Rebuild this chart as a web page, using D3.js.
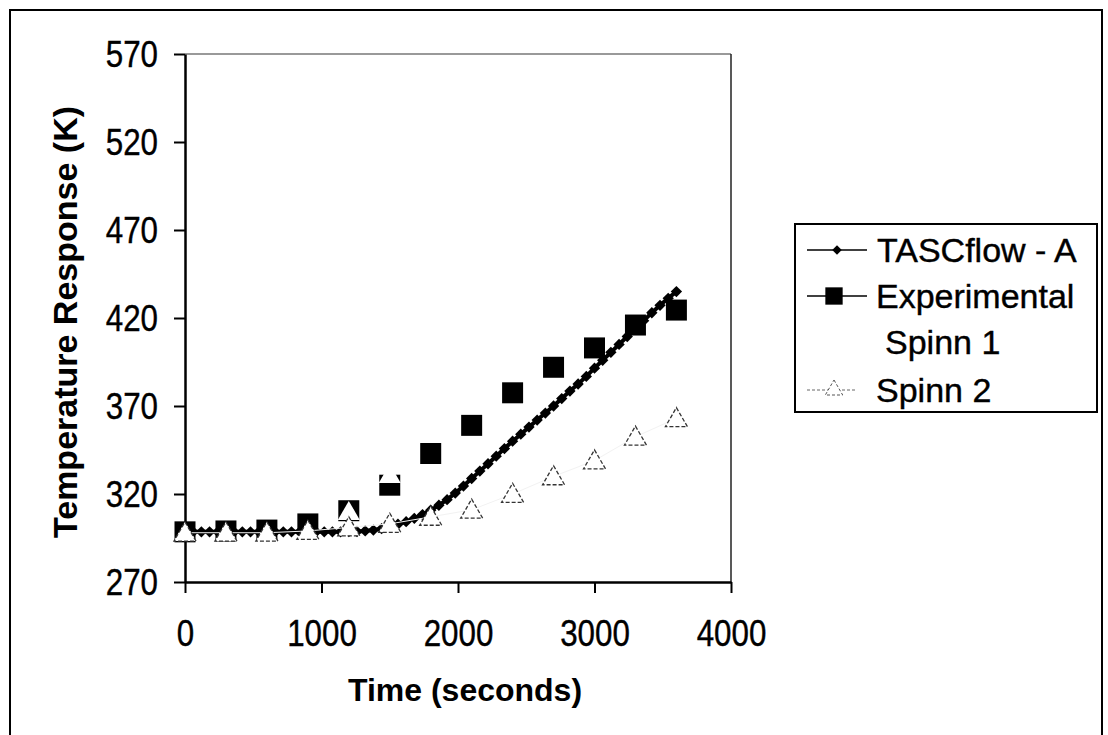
<!DOCTYPE html>
<html><head><meta charset="utf-8">
<script src="https://cdn.jsdelivr.net/npm/d3@7"></script>
<style>
html,body{margin:0;padding:0;background:#fff;}
svg{display:block;font-family:"Liberation Sans",Arial,sans-serif;}
</style></head>
<body><svg id="chart" width="1108" height="735"></svg>
<script>
// ---- data ----
const xTicks = [0, 1000, 2000, 3000, 4000];
const yTicks = [270, 320, 370, 420, 470, 520, 570];
const seriesNames = ["TASCflow - A", "Experimental", "Spinn 1", "Spinn 2"];

const tascTime = [0,60,120,180,240,300,360,420,480,540,600,660,720,780,840,900,960,1020,1080,1140,1200,
  1260,1320,1380,1440,1500,1560,1620,1680,1740,1800,1860,1920,1980,2040,2100,2160,2220,2280,2340,2400,
  2460,2520,2580,2640,2700,2760,2820,2880,2940,3000,3060,3120,3180,3240,3300,3360,3420,3480,3540,3600];
const tascTemp = [298.5,298.5,298.5,298.5,298.5,298.5,298.5,298.5,298.5,298.5,298.5,298.5,298.5,298.5,298.5,298.5,298.5,298.5,298.5,298.5,298.6,
  298.7,299,299.5,300.3,301.5,302.8,304.3,306.2,308.3,310.8,313.6,316.8,320.5,324.5,328.8,333,337.2,341.5,345.8,350,
  354,358,362,366,370,374.2,378.5,382.5,386.8,391.5,396,400.5,405,409.5,414,418.5,423,427.2,431.2,435];

const expTime = [0,300,600,900,1200,1500,1800,2100,2400,2700,3000,3300,3600];
const expTemp = [298.5,299,299.5,303,310.5,325,343,359,377.5,392,403,416,424.5];

const spinn1Time = [0,300,600,900,1200,1500];
const spinn1Temp = [298,298,298,299,310,331];

const spinn2Time = [0,300,600,900,1200,1500,1800,2100,2400,2700,3000,3300,3600];
const spinn2Temp = [298,298,298,299,301,303,307,311,320,330,339,352.5,363];

// ---- drawing ----
const svg = d3.select("#chart");
const x = d3.scaleLinear().domain([0, 4000]).range([185, 731]);
const y = d3.scaleLinear().domain([270, 570]).range([582, 54]);
const SX = 0.87; // horizontal squeeze of scanned tick-label glyphs

// outer frame
svg.append("path").attr("d", "M10,740 L10,10 L1102,10 L1102,740")
  .attr("fill", "none").attr("stroke", "#000").attr("stroke-width", 2);

// plot frame (top, right)
svg.append("line").attr("x1", x(0)).attr("x2", x(4000)).attr("y1", y(570)).attr("y2", y(570))
  .attr("stroke", "#777").attr("stroke-width", 1.5);
svg.append("line").attr("x1", x(4000)).attr("x2", x(4000)).attr("y1", y(570)).attr("y2", y(270))
  .attr("stroke", "#222").attr("stroke-width", 1.5);

// axes
const yAxis = svg.append("g").attr("transform", `translate(${x(0)},0)`)
  .call(d3.axisLeft(y).tickValues(yTicks).tickSize(11).tickSizeOuter(0).tickPadding(16).tickFormat(d3.format("d")));
const xAxis = svg.append("g").attr("transform", `translate(0,${y(270)})`)
  .call(d3.axisBottom(x).tickValues(xTicks).tickSize(11).tickSizeOuter(0).tickFormat(d3.format("d")));
[yAxis, xAxis].forEach(g => {
  g.select(".domain").attr("stroke", "#000").attr("stroke-width", 2.5);
  g.selectAll(".tick line").attr("stroke", "#000").attr("stroke-width", 2);
  g.selectAll("text").attr("font-size", 36).attr("fill", "#000")
    .attr("stroke", "#000").attr("stroke-width", 0.4)
    .attr("font-family", "Liberation Sans, Arial, sans-serif");
});
yAxis.selectAll("text").attr("dy", null).attr("dominant-baseline", "central")
  .attr("x", -27 / SX).attr("transform", `scale(${SX},1)`);
xAxis.selectAll("text").attr("dy", null).attr("y", 51).attr("dominant-baseline", "central")
  .attr("transform", `scale(${SX},1)`);

// axis titles
svg.append("text").attr("x", 465).attr("y", 690).attr("text-anchor", "middle")
  .attr("dominant-baseline", "central").attr("font-size", 32).attr("font-weight", "bold")
  .text("Time (seconds)");
svg.append("text").attr("transform", "translate(65,322) rotate(-90)").attr("text-anchor", "middle")
  .attr("dominant-baseline", "central").attr("font-size", 34).attr("font-weight", "bold")
  .text("Temperature Response (K)");

// symbols
const diamond = d3.symbol().type(d3.symbolSquare).size(64);
const square = d3.symbol().type(d3.symbolSquare).size(441);
const tri = d3.symbol().type(d3.symbolTriangle).size(210);

// TASCflow line
const tascData = tascTime.map((t, i) => [t, tascTemp[i]]);
svg.append("path").datum(tascData)
  .attr("d", d3.line().x(d => x(d[0])).y(d => y(d[1])))
  .attr("fill", "none").attr("stroke", "#000").attr("stroke-width", 4);
svg.append("g").selectAll("path").data(tascData).join("path")
  .attr("transform", d => `translate(${x(d[0])},${y(d[1])}) rotate(45)`)
  .attr("d", diamond).attr("fill", "#000");

// Experimental squares
const expData = expTime.map((t, i) => [t, expTemp[i]]);
svg.append("g").selectAll("path").data(expData).join("path")
  .attr("transform", d => `translate(${x(d[0])},${y(d[1])})`)
  .attr("d", square).attr("fill", "#000");

// Spinn 1 (white markers, invisible on white)
const s1Data = spinn1Time.map((t, i) => [t, spinn1Temp[i]]);
svg.append("g").selectAll("path").data(s1Data).join("path")
  .attr("transform", d => `translate(${x(d[0])},${y(d[1])+2})`)
  .attr("d", tri).attr("fill", "#fff");

// Spinn 2 (hollow triangles, faint line)
const s2Data = spinn2Time.map((t, i) => [t, spinn2Temp[i]]);
svg.append("path").datum(s2Data)
  .attr("d", d3.line().x(d => x(d[0])).y(d => y(d[1])))
  .attr("fill", "none").attr("stroke", "#f2f2f2").attr("stroke-width", 1);
svg.append("g").selectAll("path").data(s2Data).join("path")
  .attr("transform", d => `translate(${x(d[0])},${y(d[1])+2})`)
  .attr("d", tri).attr("fill", "#fff").attr("stroke", "#333")
  .attr("stroke-width", 1.3).attr("stroke-dasharray", "4,2");

// legend
const lg = svg.append("g");
lg.append("rect").attr("x", 795).attr("y", 224).attr("width", 302).attr("height", 188)
  .attr("fill", "#fff").attr("stroke", "#000").attr("stroke-width", 2);
const rowY = [250, 296, 342, 390];
const textX = [877, 876, 885, 876];
seriesNames.forEach((name, i) => {
  const g = lg.append("g");
  const cy = rowY[i];
  if (i === 0) {
    g.append("line").attr("x1", 807).attr("x2", 867).attr("y1", cy).attr("y2", cy).attr("stroke", "#000").attr("stroke-width", 1.5);
    g.append("path").attr("transform", `translate(837,${cy}) rotate(45)`).attr("d", d3.symbol().type(d3.symbolSquare).size(45)).attr("fill", "#000");
  } else if (i === 1) {
    g.append("line").attr("x1", 807).attr("x2", 867).attr("y1", cy).attr("y2", cy).attr("stroke", "#000").attr("stroke-width", 1.5);
    g.append("path").attr("transform", `translate(834,${cy})`).attr("d", d3.symbol().type(d3.symbolSquare).size(300)).attr("fill", "#000");
  } else if (i === 3) {
    g.append("line").attr("x1", 807).attr("x2", 857).attr("y1", cy).attr("y2", cy).attr("stroke", "#666").attr("stroke-width", 1).attr("stroke-dasharray", "3,2");
    g.append("path").attr("transform", `translate(834,${cy})`).attr("d", d3.symbol().type(d3.symbolTriangle).size(130)).attr("fill", "#fff").attr("stroke", "#555").attr("stroke-width", 1).attr("stroke-dasharray", "3,2");
  }
  g.append("text").attr("x", textX[i]).attr("y", cy).attr("dominant-baseline", "central")
    .attr("font-size", 34).attr("fill", "#000").attr("stroke", "#000").attr("stroke-width", 0.4).text(name);
});
</script></body></html>
